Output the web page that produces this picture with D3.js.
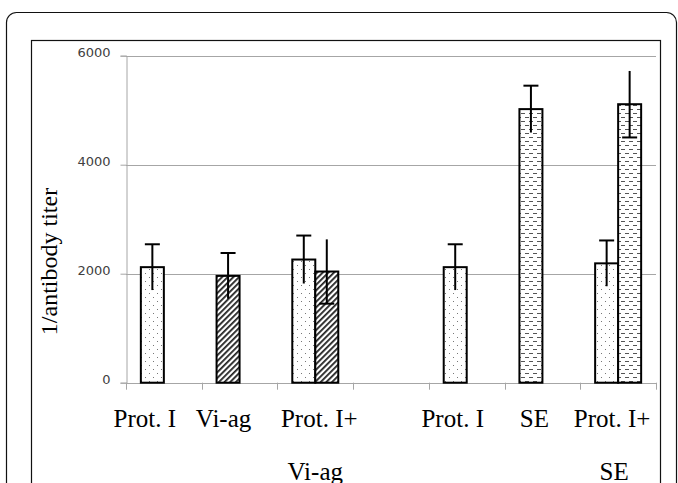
<!DOCTYPE html>
<html>
<head>
<meta charset="utf-8">
<script src="https://cdn.jsdelivr.net/npm/d3@7"></script>
<style>
  html, body { margin: 0; padding: 0; background: #fff; }
  svg { display: block; }
</style>
</head>
<body>
<svg id="chart" width="678" height="483"></svg>
<script>
// ---------------- data ----------------
const categoryLine1 = ["Prot. I", "Vi-ag", "Prot. I+", "", "Prot. I", "SE", "Prot. I+"];
const categoryLine2 = ["", "", "Vi-ag", "", "", "", "SE"];

// left slot of each category
const slotAValues = [2120, 1960, 2260, null, 2120, 5020, 2190];
const slotAErrors = [420, 420, 440, null, 420, 430, 420];
const slotAAntigen = ["Prot. I", "Vi-ag", "Prot. I", null, "Prot. I", "SE", "Prot. I"];

// right slot of each category
const slotBValues = [null, null, 2040, null, null, null, 5110];
const slotBErrors = [null, null, 590, null, null, null, 610];
const slotBAntigen = [null, null, "Vi-ag", null, null, null, "SE"];

const yTicks = [0, 2000, 4000, 6000];
const yTitle = "1/antibody titer";

// ---------------- layout / style ----------------
const plot = { left: 126, right: 656, top: 55.7, bottom: 382.7 };
const labelDx = [-19, -16, 4, 0, -14, -8, -6];
const labelDx2 = [0, 0, 0, 0, 0, 0, -4];
const patternOf = { "Prot. I": "url(#pDots)", "Vi-ag": "url(#pHatch)", "SE": "url(#pDash)" };
const gridColor = "#a6a6a6";

const svg = d3.select("#chart");

// frames
svg.append("rect").attr("x", 6.5).attr("y", 12.5).attr("width", 670).attr("height", 520)
  .attr("rx", 10).attr("fill", "none").attr("stroke", "#111").attr("stroke-width", 1.2);
svg.append("rect").attr("x", 31.5).attr("y", 40.5).attr("width", 629).attr("height", 520)
  .attr("fill", "none").attr("stroke", "#111").attr("stroke-width", 1.2);

// patterns
const defs = svg.append("defs");
const pd = defs.append("pattern").attr("id", "pDots").attr("patternUnits", "userSpaceOnUse")
  .attr("width", 8).attr("height", 8);
pd.append("rect").attr("width", 8).attr("height", 8).attr("fill", "#fff");
pd.append("rect").attr("x", 1).attr("y", 1).attr("width", 1).attr("height", 1).attr("fill", "#777");
pd.append("rect").attr("x", 5).attr("y", 5).attr("width", 1).attr("height", 1).attr("fill", "#777");

const ph = defs.append("pattern").attr("id", "pHatch").attr("patternUnits", "userSpaceOnUse")
  .attr("width", 4).attr("height", 4).attr("patternTransform", "rotate(45)");
ph.append("rect").attr("width", 4).attr("height", 4).attr("fill", "#fff");
ph.append("rect").attr("x", 0).attr("y", 0).attr("width", 1.8).attr("height", 4).attr("fill", "#222");

const pds = defs.append("pattern").attr("id", "pDash").attr("patternUnits", "userSpaceOnUse")
  .attr("width", 8).attr("height", 8);
pds.append("rect").attr("width", 8).attr("height", 8).attr("fill", "#fff");
pds.append("rect").attr("x", 1).attr("y", 1).attr("width", 4).attr("height", 1).attr("fill", "#555");
pds.append("rect").attr("x", 5).attr("y", 5).attr("width", 3).attr("height", 1).attr("fill", "#555");
pds.append("rect").attr("x", 0).attr("y", 5).attr("width", 1).attr("height", 1).attr("fill", "#555");

// scales
const idx = d3.range(categoryLine1.length);
const x0 = d3.scaleBand().domain(idx).range([plot.left, plot.right]).paddingInner(0).paddingOuter(0);
const barW = 23;
const x1 = d3.scaleBand().domain(["A", "B"]).range([-barW, barW]);
const y = d3.scaleLinear().domain([0, 6000]).range([plot.bottom, plot.top]);

// gridlines
svg.append("g").selectAll("line").data(yTicks.filter(t => t > 0)).join("line")
  .attr("x1", plot.left).attr("x2", plot.right)
  .attr("y1", d => Math.round(y(d)) + 0.5).attr("y2", d => Math.round(y(d)) + 0.5)
  .attr("stroke", gridColor).attr("stroke-width", 1);

// y axis
const yAxis = d3.axisLeft(y).tickValues(yTicks).tickSize(6).tickPadding(10).tickFormat(d3.format("d"));
const gy = svg.append("g").attr("transform", `translate(${plot.left + 0.5},0)`).call(yAxis);
gy.select(".domain").attr("stroke", gridColor);
gy.selectAll(".tick line").attr("stroke", gridColor);
gy.selectAll(".tick text").attr("font-family", "DejaVu Sans").attr("font-size", 13)
  .attr("fill", "#404040").attr("dy", "0.05em");

// x axis (ticks at category boundaries)
const boundaries = d3.range(categoryLine1.length + 1).map(i => i === categoryLine1.length ? plot.right : x0(i));
const gx = svg.append("g");
gx.append("line").attr("x1", plot.left).attr("x2", plot.right)
  .attr("y1", Math.round(y(0)) + 0.5).attr("y2", Math.round(y(0)) + 0.5)
  .attr("stroke", gridColor);
gx.selectAll("line.tk").data(boundaries).join("line").attr("class", "tk")
  .attr("x1", d => Math.round(d) + 0.5).attr("x2", d => Math.round(d) + 0.5)
  .attr("y1", y(0)).attr("y2", y(0) + 7).attr("stroke", gridColor);

// bars
const bars = [];
idx.forEach(i => {
  if (slotAValues[i] != null) bars.push({ i, slot: "A", v: slotAValues[i], e: slotAErrors[i], ag: slotAAntigen[i] });
  if (slotBValues[i] != null) bars.push({ i, slot: "B", v: slotBValues[i], e: slotBErrors[i], ag: slotBAntigen[i] });
});
const cx = d => x0(d.i) + x0.bandwidth() / 2 + x1(d.slot);

svg.append("g").selectAll("rect").data(bars).join("rect")
  .attr("x", d => cx(d)).attr("width", x1.bandwidth())
  .attr("y", d => y(d.v)).attr("height", d => y(0) - y(d.v))
  .attr("fill", d => patternOf[d.ag]).attr("stroke", "#000").attr("stroke-width", 2);

// error bars
const eg = svg.append("g").attr("stroke", "#000").attr("stroke-width", 2);
bars.forEach(d => {
  const mx = cx(d) + x1.bandwidth() / 2;
  eg.append("line").attr("x1", mx).attr("x2", mx).attr("y1", y(d.v + d.e)).attr("y2", y(d.v - d.e));
  const capY = d.slot === "A" ? y(d.v + d.e) : y(d.v - d.e);
  eg.append("line").attr("x1", mx - 7.5).attr("x2", mx + 7.5).attr("y1", capY).attr("y2", capY);
});

// category labels
const lab = svg.append("g").attr("font-family", "Liberation Serif, Times New Roman, serif")
  .attr("font-size", 25).attr("fill", "#000").attr("text-anchor", "middle");
lab.selectAll("text.l1").data(idx).join("text").attr("class", "l1")
  .attr("x", i => x0(i) + x0.bandwidth() / 2 + labelDx[i]).attr("y", 426.5)
  .text(i => categoryLine1[i]);
lab.selectAll("text.l2").data(idx).join("text").attr("class", "l2")
  .attr("x", i => x0(i) + x0.bandwidth() / 2 + labelDx2[i]).attr("y", 479.5)
  .text(i => categoryLine2[i]);

// y title
svg.append("text").attr("transform", "translate(57,261.5) rotate(-90)")
  .attr("text-anchor", "middle").attr("font-family", "Liberation Serif, Times New Roman, serif")
  .attr("font-size", 24).attr("fill", "#000").text(yTitle);
</script>
</body>
</html>
